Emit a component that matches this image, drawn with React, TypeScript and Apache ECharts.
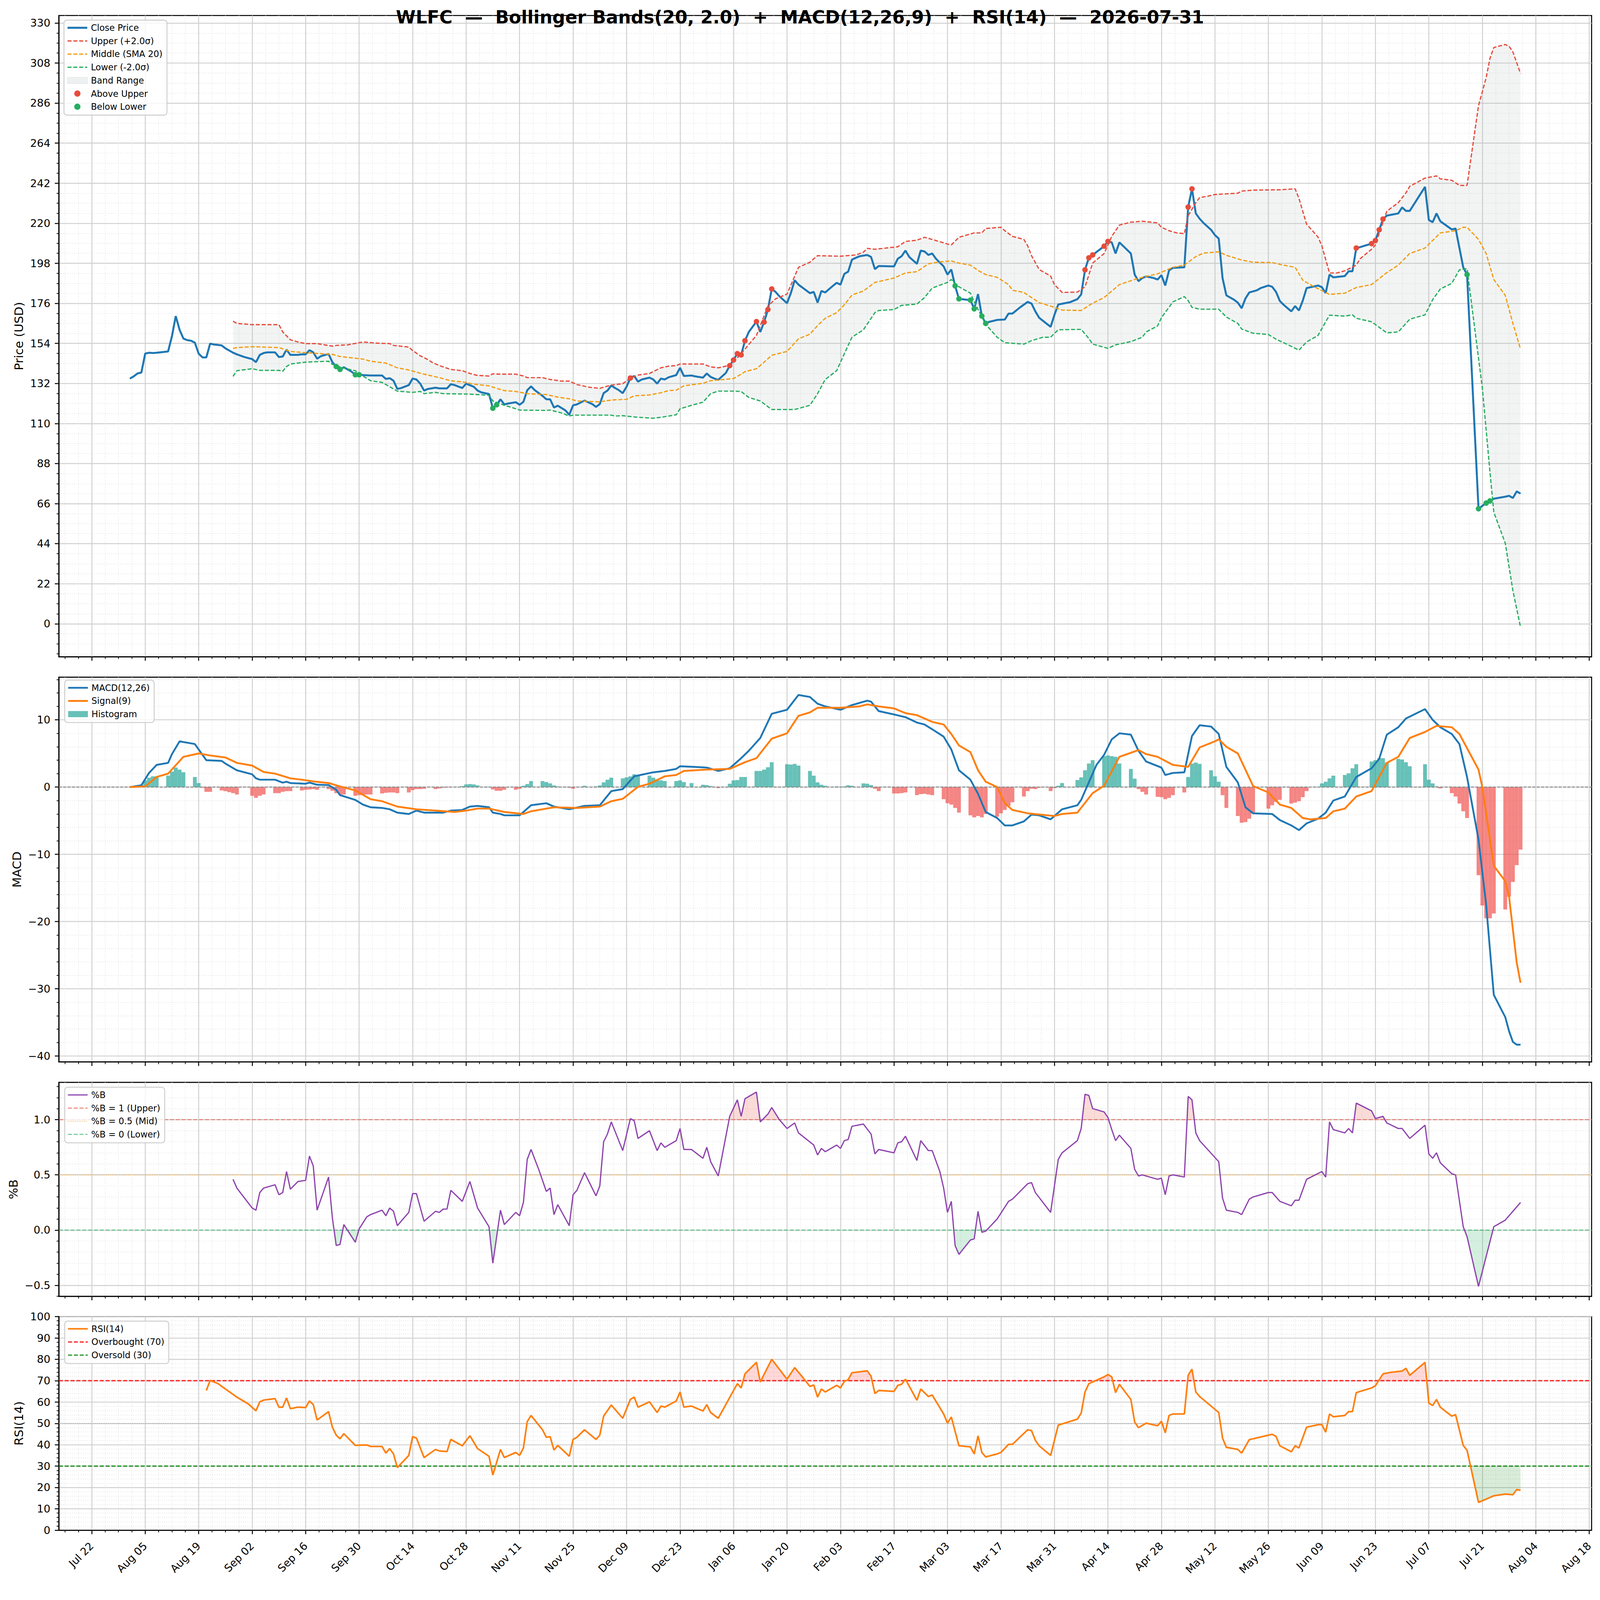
import React, { useEffect, useRef } from "react";
import * as echarts from "echarts";

const FONT = "DejaVu Sans";
// x values are day offsets from 2025-07-22
const BASE_DATE = Date.UTC(2025, 6, 22);
const MONTHS = ["Jan", "Feb", "Mar", "Apr", "May", "Jun", "Jul", "Aug", "Sep", "Oct", "Nov", "Dec"];
const X_MIN = -8.6;
const X_MAX = 392.6;

const TITLE = "WLFC  \u2014  Bollinger Bands(20, 2.0)  +  MACD(12,26,9)  +  RSI(14)  \u2014  2026-07-31";

const CLOSE: number[][] = [
  [10,134.7],[11,135.9],[12,137.5],[13,138.0],[14,148.4],[15,148.9],[16,148.7],[17,148.9],[20,149.6],[21,157.9],[22,169.0],[23,161.5],[24,156.7],[25,155.8],[26,155.5],[27,154.4],[28,148.4],[29,146.3],[30,146.3],[31,153.9],[32,153.4],[33,153.2],[34,152.9],[35,151.3],[36,150.1],[37,148.9],[38,148.0],[40,146.5],[42,145.4],[43,143.7],[44,147.7],[45,148.7],[46,149.1],[48,149.1],[49,146.5],[50,146.8],[51,150.6],[52,147.7],[54,147.7],[55,148.0],[56,148.0],[57,150.3],[58,149.1],[59,145.6],[60,147.0],[62,148.2],[63,143.7],[64,141.3],[65,139.7],[66,140.9],[68,138.5],[69,136.8],[70,136.8],[71,136.6],[73,136.4],[74,136.4],[76,136.4],[77,134.5],[78,134.9],[79,133.5],[80,129.0],[81,129.5],[83,131.1],[84,134.7],[85,134.2],[86,131.9],[87,128.1],[88,129.0],[90,129.7],[91,129.3],[93,129.3],[94,131.6],[95,131.1],[97,129.5],[98,131.9],[100,130.2],[101,128.1],[102,127.1],[104,126.2],[105,118.4],[106,120.3],[107,123.3],[108,120.5],[109,121.0],[111,121.7],[112,120.3],[113,121.9],[114,128.3],[115,130.4],[116,128.3],[118,125.2],[119,123.3],[120,123.3],[121,118.8],[122,119.8],[124,117.2],[125,114.8],[126,120.0],[127,120.5],[129,122.6],[131,120.7],[132,119.1],[133,120.7],[134,126.7],[135,128.1],[136,130.9],[137,129.5],[138,128.3],[139,126.7],[140,130.2],[141,135.0],[142,136.1],[143,133.0],[144,134.2],[146,135.2],[147,134.2],[148,131.9],[149,134.7],[150,134.2],[151,135.4],[153,136.6],[154,140.6],[155,136.1],[157,136.4],[158,135.9],[160,135.2],[161,137.5],[162,135.6],[163,134.7],[164,134.0],[166,137.8],[167,141.8],[168,144.9],[169,148.4],[170,147.7],[171,155.5],[172,160.3],[174,166.0],[175,160.3],[176,165.7],[177,172.6],[178,183.9],[179,182.3],[180,179.9],[182,176.1],[183,181.6],[184,188.7],[185,186.3],[188,181.6],[189,182.3],[190,176.4],[191,182.8],[192,182.0],[194,185.6],[195,187.3],[196,186.3],[197,192.2],[198,193.4],[199,200.0],[200,201.0],[201,201.9],[203,202.6],[204,201.5],[205,194.8],[206,196.5],[210,196.3],[211,200.5],[212,201.9],[213,205.0],[214,201.5],[216,197.7],[217,205.0],[218,204.5],[219,202.6],[220,203.4],[221,200.5],[223,196.3],[224,191.8],[225,194.6],[226,185.6],[227,178.5],[229,178.0],[230,177.8],[231,173.0],[232,181.1],[233,169.0],[234,165.0],[235,165.9],[237,166.9],[239,167.1],[240,170.4],[241,170.4],[243,173.8],[245,176.8],[246,175.9],[247,171.6],[248,168.1],[251,163.1],[252,169.7],[253,175.4],[256,176.6],[258,178.3],[259,180.9],[260,194.4],[261,201.0],[262,202.6],[265,207.4],[266,210.0],[267,209.5],[268,203.4],[269,209.5],[272,203.4],[273,191.8],[274,188.2],[275,189.9],[276,190.8],[278,189.9],[279,189.1],[280,191.5],[281,185.8],[282,194.1],[283,195.5],[286,195.8],[287,228.9],[288,238.9],[289,225.4],[290,222.5],[291,220.2],[293,216.4],[294,213.5],[295,211.6],[296,189.9],[297,180.4],[299,178.0],[300,176.4],[301,173.3],[302,178.7],[303,182.0],[305,183.2],[306,184.4],[308,185.8],[309,185.1],[310,182.3],[311,177.3],[312,175.2],[314,171.6],[315,174.5],[316,172.1],[317,177.5],[318,184.4],[321,185.8],[322,184.9],[323,181.6],[324,191.8],[325,190.3],[328,191.0],[329,193.6],[330,193.6],[331,206.4],[332,206.9],[335,208.8],[336,210.5],[337,216.4],[338,222.3],[339,224.2],[342,225.4],[343,228.7],[344,226.8],[345,226.8],[349,240.0],[350,221.8],[351,220.6],[352,225.4],[353,221.1],[356,216.6],[357,217.1],[359,195.8],[360,191.8],[363,63.2],[365,66.3],[366,67.5],[367,68.7],[370,69.8],[371,70.3],[372,69.1],[373,72.7],[374,71.5]
];

const UPPER: number[][] = [
  [37,166.2],[38,165.0],[42,164.3],[49,164.3],[50,160.3],[52,156.0],[54,154.8],[56,153.9],[59,153.9],[63,152.5],[64,152.9],[67,153.2],[70,154.4],[71,154.8],[75,154.1],[78,153.9],[79,152.9],[83,152.0],[84,150.1],[86,147.2],[88,145.1],[89,143.7],[91,141.8],[94,139.7],[97,139.0],[99,137.5],[101,136.4],[104,136.1],[105,137.3],[107,137.1],[111,137.1],[113,136.1],[114,135.2],[118,135.2],[120,134.2],[123,133.3],[125,133.3],[127,131.4],[130,130.0],[133,129.3],[134,130.0],[136,131.1],[139,131.9],[141,134.9],[143,136.6],[146,137.5],[149,140.6],[151,141.5],[153,141.8],[154,142.7],[160,142.7],[162,141.1],[164,140.6],[166,141.5],[168,143.7],[170,148.4],[174,158.4],[177,174.5],[179,178.5],[182,181.1],[185,195.8],[188,198.6],[189,200.5],[190,202.2],[196,201.9],[200,202.6],[202,204.1],[203,206.2],[205,205.7],[211,207.1],[213,210.0],[216,210.7],[218,212.3],[220,211.1],[224,208.6],[225,208.1],[227,212.3],[229,213.5],[231,214.7],[233,214.7],[234,217.1],[238,217.8],[239,215.9],[241,212.8],[244,211.1],[245,207.6],[246,202.2],[248,194.6],[250,192.2],[251,191.0],[252,186.3],[254,182.0],[258,182.2],[260,185.1],[262,198.1],[265,203.4],[267,212.8],[269,219.0],[272,220.6],[275,221.1],[279,220.2],[280,217.8],[282,215.9],[284,214.7],[286,214.3],[287,224.2],[289,231.3],[290,234.1],[292,234.8],[294,235.8],[300,236.5],[301,237.7],[304,238.2],[311,238.4],[315,238.9],[316,233.7],[318,219.5],[321,212.4],[322,207.6],[324,192.7],[326,192.7],[328,193.9],[331,197.0],[332,200.5],[335,205.7],[336,208.1],[338,220.6],[339,226.6],[342,231.3],[344,236.7],[345,240.3],[349,244.8],[352,246.0],[353,244.4],[356,243.6],[358,240.8],[360,240.8],[363,284.6],[365,299.9],[366,310.6],[367,316.5],[370,318.2],[371,317.2],[372,314.1],[374,302.3]
];

const MIDDLE: number[][] = [
  [37,151.3],[38,151.7],[42,152.2],[49,151.7],[52,149.6],[56,148.9],[63,148.0],[65,146.8],[71,145.4],[73,144.2],[77,143.2],[80,140.6],[83,139.4],[87,137.1],[91,135.2],[94,133.5],[98,132.6],[100,131.6],[104,130.7],[106,129.3],[108,128.1],[111,127.6],[114,126.4],[119,125.9],[122,124.5],[125,123.6],[127,122.4],[133,121.9],[136,122.9],[140,123.3],[142,125.2],[146,125.7],[149,126.9],[151,128.1],[153,128.3],[155,130.7],[160,132.1],[162,133.5],[168,134.7],[170,137.1],[171,138.5],[174,140.1],[176,143.7],[178,147.5],[182,149.6],[185,156.5],[188,159.1],[190,163.8],[192,167.8],[195,170.9],[197,175.2],[199,180.6],[202,182.8],[205,187.5],[210,189.9],[213,192.7],[216,193.4],[219,197.7],[222,198.8],[225,199.3],[227,198.1],[230,197.0],[232,194.1],[234,191.8],[237,190.3],[240,186.3],[241,183.2],[244,182.0],[246,179.2],[248,176.4],[251,174.5],[254,172.3],[259,172.1],[262,176.1],[265,179.2],[269,186.3],[273,189.1],[276,190.8],[279,192.2],[283,195.8],[286,197.0],[289,201.7],[291,203.6],[295,204.3],[297,202.4],[301,199.8],[304,198.6],[309,198.4],[311,197.4],[315,195.8],[317,188.7],[320,185.1],[324,180.9],[328,181.6],[331,184.7],[335,186.3],[339,192.9],[342,197.0],[345,203.4],[349,206.4],[353,214.7],[357,215.9],[359,217.8],[360,217.8],[363,211.1],[365,203.4],[367,189.1],[370,180.4],[372,165.0],[374,150.8]
];

const LOWER: number[][] = [
  [37,135.9],[38,139.0],[42,140.1],[44,139.2],[49,139.2],[50,138.7],[51,141.3],[52,142.7],[56,143.7],[58,143.9],[62,144.2],[63,142.5],[66,140.4],[69,139.0],[71,136.1],[73,133.5],[76,132.6],[77,131.4],[80,127.8],[84,127.1],[86,127.6],[87,126.4],[90,127.1],[92,126.4],[98,126.2],[101,125.9],[104,125.5],[105,122.4],[108,120.0],[110,118.8],[112,117.4],[119,117.2],[120,117.4],[123,115.8],[125,114.1],[126,114.6],[136,114.6],[137,114.1],[139,114.3],[142,113.6],[147,112.9],[149,113.4],[153,114.8],[154,118.1],[157,120.0],[160,121.7],[162,126.4],[164,127.8],[168,127.8],[170,127.6],[171,125.9],[172,124.3],[175,122.4],[178,117.7],[184,117.7],[188,120.0],[190,126.4],[192,134.2],[195,139.0],[196,143.7],[199,157.4],[202,161.5],[205,170.9],[206,172.1],[210,172.6],[212,174.9],[216,175.6],[218,179.2],[220,184.4],[224,187.5],[225,189.1],[227,185.1],[230,181.6],[231,176.8],[234,164.5],[237,157.4],[239,154.4],[244,153.6],[246,155.5],[249,157.4],[251,157.4],[253,161.5],[259,161.7],[261,156.7],[262,153.6],[266,151.3],[268,153.2],[272,155.0],[275,157.4],[276,160.3],[279,163.6],[280,168.1],[283,176.8],[286,179.7],[287,177.5],[288,173.8],[290,172.8],[295,172.8],[297,168.5],[300,165.0],[301,161.9],[304,159.6],[308,158.9],[310,156.3],[313,153.4],[316,150.3],[318,154.8],[321,158.4],[322,162.2],[324,169.5],[328,169.0],[330,169.7],[331,167.8],[335,165.9],[339,159.8],[342,160.3],[345,167.3],[349,169.7],[351,178.0],[353,183.9],[356,187.0],[358,194.4],[360,195.1],[364,129.5],[366,83.3],[367,61.3],[370,44.3],[372,18.2],[374,-1.9]
];

const ABOVE_UPPER: number[][] = [
  [141,135.0],[167,141.8],[168,144.9],[169,148.4],[170,147.7],[171,155.5],[174,166.0],[176,165.7],[177,172.6],[178,183.9],[260,194.4],[261,201.0],[262,202.6],[265,207.4],[266,210.0],[287,228.9],[288,238.9],[331,206.4],[335,208.8],[336,210.5],[337,216.4],[338,222.3]
];

const BELOW_LOWER: number[][] = [
  [64,141.3],[65,139.7],[69,136.8],[70,136.8],[105,118.4],[106,120.3],[226,185.6],[227,178.5],[230,177.8],[231,173.0],[233,169.0],[234,165.0],[360,191.8],[363,63.2],[365,66.3],[366,67.5]
];

const MACD: number[][] = [
  [10,0],[13,0.27],[15,2.1],[17,3.3],[20,3.6],[21,4.9],[23,6.8],[25,6.6],[27,6.4],[28,5.6],[30,4.0],[34,3.9],[35,3.5],[38,2.5],[42,1.9],[43,1.3],[44,1.1],[48,1.1],[50,0.66],[51,0.8],[52,0.6],[56,0.5],[57,0.66],[59,0.35],[62,0.3],[64,-0.4],[65,-1.2],[69,-1.9],[71,-2.6],[73,-3.0],[76,-3.1],[78,-3.3],[80,-3.8],[83,-4.0],[85,-3.5],[87,-3.8],[92,-3.8],[94,-3.5],[97,-3.4],[99,-2.9],[101,-2.8],[104,-3.0],[105,-3.8],[107,-4.0],[108,-4.2],[112,-4.2],[113,-3.7],[115,-2.7],[119,-2.4],[121,-2.9],[125,-3.3],[129,-2.8],[133,-2.7],[136,-0.6],[139,-0.3],[142,1.6],[147,2.2],[150,2.4],[153,2.7],[154,3.1],[158,3.0],[161,2.9],[164,2.4],[167,2.8],[170,4.3],[172,5.4],[175,7.3],[178,10.9],[182,11.5],[185,13.7],[188,13.4],[190,12.4],[192,12.0],[196,11.5],[199,12.2],[203,12.85],[204,12.7],[206,11.3],[210,10.8],[213,10.4],[216,9.6],[218,9.3],[220,8.6],[223,7.5],[225,5.6],[227,2.5],[230,1.1],[232,-1.0],[234,-3.7],[237,-4.6],[239,-5.7],[241,-5.7],[244,-5.1],[246,-4.1],[248,-4.2],[251,-4.8],[254,-3.3],[258,-2.7],[259,-1.9],[263,3.3],[265,4.8],[267,7.1],[269,8.0],[272,7.8],[274,5.4],[276,3.8],[280,2.9],[281,1.8],[283,2.1],[286,2.2],[288,7.6],[290,9.2],[293,9.0],[295,7.9],[297,3.0],[300,0.7],[302,-3.0],[304,-3.9],[309,-4.0],[311,-4.9],[314,-5.7],[316,-6.4],[318,-5.4],[321,-4.7],[323,-3.8],[325,-2.0],[328,-1.4],[331,1.5],[335,2.8],[337,4.2],[339,7.8],[342,8.9],[344,10.2],[349,11.6],[351,10.0],[353,8.9],[356,7.9],[358,6.4],[360,1.5],[363,-7.8],[365,-17.5],[367,-30.9],[370,-34.2],[371,-36.3],[372,-37.9],[373,-38.3],[374,-38.3]
];

const SIGNAL: number[][] = [
  [10,0],[14,0.1],[17,1.5],[20,2.0],[24,4.5],[28,5.0],[31,4.7],[35,4.4],[38,3.6],[42,3.2],[45,2.25],[48,2.0],[52,1.3],[55,1.1],[58,0.85],[62,0.6],[65,0.1],[69,-0.5],[73,-1.8],[76,-2.1],[80,-2.9],[85,-3.3],[90,-3.5],[95,-3.7],[98,-3.5],[101,-3.2],[104,-3.2],[108,-3.7],[113,-4.0],[115,-3.6],[118,-3.3],[121,-3.0],[127,-3.1],[133,-2.9],[136,-2.1],[139,-1.75],[143,0.04],[146,0.5],[150,1.6],[153,1.8],[155,2.4],[161,2.6],[167,2.7],[171,3.7],[174,4.3],[178,7.2],[182,8.0],[185,10.6],[188,11.1],[190,11.8],[192,11.8],[196,11.8],[201,12.0],[203,12.3],[206,12.0],[210,11.7],[213,11.0],[216,10.7],[220,9.7],[223,9.3],[225,7.9],[227,6.2],[230,5.2],[232,2.5],[234,0.8],[237,0],[239,-2.4],[241,-3.4],[245,-3.9],[252,-4.3],[254,-4.0],[258,-3.8],[262,-0.9],[265,0.2],[269,4.5],[274,5.5],[276,4.9],[279,4.5],[283,3.3],[287,3.0],[290,5.9],[294,6.8],[295,7.1],[297,6.0],[300,5.0],[304,0.15],[308,-0.8],[311,-2.6],[314,-3.1],[317,-4.6],[319,-4.8],[323,-4.6],[325,-3.6],[328,-3.2],[331,-1.4],[335,-0.6],[339,3.6],[342,4.5],[345,7.3],[349,8.2],[352,9.1],[356,8.9],[358,7.9],[363,2.6],[364,0],[367,-11.7],[370,-14.0],[371,-16.3],[373,-26.1],[374,-29.1]
];

const HIST: number[][] = [
  [10,0],[13,0.3],[14,1.0],[15,1.4],[16,1.6],[17,1.6],
  [20,1.7],[21,2.3],[22,2.9],[23,2.6],[24,2.2],
  [27,1.5],[28,0.6],[29,-0.1],[30,-0.7],[31,-0.7],
  [34,-0.5],[35,-0.6],[36,-0.75],[37,-0.9],[38,-1.1],
  [42,-1.3],[43,-1.6],[44,-1.3],[45,-1.1],
  [48,-0.9],[49,-0.9],[50,-0.7],[51,-0.6],[52,-0.6],
  [55,-0.5],[56,-0.4],[57,-0.35],[58,-0.3],[59,-0.4],
  [62,-0.3],[63,-0.55],[64,-0.9],[65,-1.1],[66,-1.1],
  [69,-1.3],[70,-1.2],[71,-1.15],[72,-1.1],[73,-1.1],
  [76,-0.95],[77,-0.85],[78,-0.8],[79,-0.8],[80,-0.9],
  [83,-0.8],[84,-0.45],[85,-0.3],[86,-0.3],[87,-0.25],
  [90,-0.3],[91,-0.2],[92,-0.1],[93,-0.05],[94,0.05],
  [97,0.15],[98,0.4],[99,0.45],[100,0.4],[101,0.25],
  [104,0.05],[105,-0.35],[106,-0.55],[107,-0.55],[108,-0.4],
  [111,-0.4],[112,-0.25],[113,0.2],[114,0.45],[115,0.9],
  [118,0.9],[119,0.75],[120,0.55],[121,0.25],[122,0.1],
  [125,-0.1],[126,-0.25],[127,0.0],[129,0.2],
  [132,0.1],[133,0.25],[134,0.7],[135,1.1],[136,1.4],
  [139,1.3],[140,1.45],[141,1.6],[142,1.9],[143,1.7],
  [146,1.7],[147,1.4],[148,1.15],[149,1.0],[150,0.9],
  [153,0.9],[154,1.0],[155,0.75],[157,0.6],
  [160,0.35],[161,0.3],[162,0.15],[164,-0.15],
  [167,0.5],[168,1.0],[169,1.05],[170,1.5],[171,1.5],
  [174,2.4],[175,2.4],[176,2.6],[177,2.95],[178,3.7],
  [182,3.4],[183,3.35],[184,3.45],[185,3.2],
  [188,2.4],[189,1.7],[190,0.7],[191,0.35],[192,0.2],
  [195,0.1],[196,0.0],[197,0.1],[198,0.27],[199,0.2],
  [202,0.55],[203,0.5],[204,0.3],[205,-0.25],[206,-0.6],
  [210,-0.95],[211,-0.95],[212,-0.9],[213,-0.8],
  [216,-1.2],[217,-1.05],[218,-1.0],[219,-1.1],[220,-1.2],
  [223,-1.8],[224,-2.4],[225,-2.6],[226,-3.1],[227,-3.8],
  [230,-4.2],[231,-4.5],[232,-4.3],[233,-4.5],[234,-4.0],
  [237,-4.4],[238,-3.9],[239,-3.4],[240,-2.8],[241,-2.25],
  [244,-1.4],[245,-0.6],[246,-0.25],[247,-0.3],[248,-0.1],
  [251,-0.6],[252,-0.15],[253,0.2],[254,0.6],
  [258,1.05],[259,1.45],[260,2.5],[261,3.5],[262,4.0],
  [265,4.6],[266,4.7],[267,4.6],[268,4.5],[269,3.5],
  [272,2.7],[273,1.25],[274,-0.3],[275,-0.7],[276,-1.1],
  [279,-1.45],[280,-1.5],[281,-1.8],[282,-1.6],[283,-1.2],
  [286,-0.8],[287,1.5],[288,3.5],[289,3.65],[290,3.45],
  [293,2.5],[294,1.6],[295,0.8],[296,-1.2],[297,-3.1],
  [300,-4.3],[301,-5.3],[302,-5.2],[303,-4.7],[304,-3.9],
  [308,-3.2],[309,-2.7],[310,-2.2],[311,-1.9],
  [314,-2.45],[315,-2.3],[316,-2.1],[317,-1.5],[318,-0.6],
  [321,0.05],[322,0.55],[323,0.8],[324,1.3],[325,1.7],
  [328,1.8],[329,2.05],[330,2.8],[331,3.4],
  [335,3.8],[336,4.0],[337,4.3],[338,4.3],[339,3.65],
  [342,4.2],[343,4.1],[344,3.7],[345,3.1],
  [349,3.4],[350,1.1],[351,0.55],[352,0.1],[353,-0.2],
  [356,-0.9],[357,-1.4],[358,-2.45],[359,-3.6],[360,-4.6],
  [363,-13.1],[364,-17.6],[365,-19.5],[366,-19.5],[367,-18.8],
  [370,-18.2],[371,-16.3],[372,-14.1],[373,-11.6],[374,-9.3]
];

const PCT_B: number[][] = [
  [37,0.46],[38,0.38],[42,0.2],[43,0.18],[44,0.34],[45,0.38],[48,0.41],[49,0.32],[50,0.34],[51,0.53],[52,0.37],[54,0.44],[56,0.45],[57,0.67],[58,0.58],[59,0.18],[62,0.48],[63,0.11],[64,-0.14],[65,-0.13],[66,0.05],[69,-0.11],[70,0.01],[72,0.12],[73,0.14],[76,0.18],[77,0.13],[78,0.2],[79,0.17],[80,0.04],[83,0.16],[84,0.33],[85,0.33],[87,0.08],[90,0.17],[91,0.16],[92,0.19],[93,0.19],[94,0.36],[97,0.26],[99,0.44],[101,0.2],[104,0.03],[105,-0.3],[107,0.18],[108,0.05],[111,0.16],[112,0.13],[113,0.25],[114,0.64],[115,0.73],[117,0.55],[119,0.35],[120,0.38],[121,0.14],[122,0.23],[125,0.04],[126,0.32],[127,0.36],[129,0.52],[132,0.31],[133,0.40],[134,0.80],[135,0.87],[136,0.98],[139,0.72],[141,1.01],[142,0.99],[143,0.83],[146,0.90],[148,0.72],[149,0.79],[150,0.75],[153,0.81],[154,0.92],[155,0.73],[157,0.73],[160,0.65],[161,0.75],[162,0.62],[164,0.49],[167,1.03],[169,1.18],[170,1.03],[171,1.19],[174,1.25],[175,0.98],[177,1.05],[178,1.11],[180,1.0],[182,0.92],[184,0.97],[185,0.88],[189,0.77],[190,0.68],[191,0.74],[192,0.71],[195,0.77],[196,0.74],[197,0.81],[198,0.82],[199,0.94],[202,0.96],[204,0.87],[205,0.69],[206,0.73],[210,0.70],[211,0.79],[212,0.80],[213,0.85],[216,0.63],[217,0.81],[219,0.72],[220,0.72],[222,0.53],[223,0.38],[224,0.16],[225,0.26],[226,-0.14],[227,-0.22],[230,-0.09],[231,-0.08],[232,0.17],[233,-0.02],[234,-0.01],[237,0.10],[240,0.26],[241,0.28],[245,0.42],[246,0.43],[247,0.34],[251,0.16],[253,0.64],[254,0.70],[258,0.81],[259,0.92],[260,1.23],[261,1.22],[262,1.10],[265,1.07],[266,1.02],[267,0.91],[268,0.81],[269,0.86],[272,0.74],[273,0.55],[274,0.49],[275,0.50],[279,0.46],[280,0.47],[281,0.32],[282,0.49],[283,0.50],[286,0.48],[287,1.21],[288,1.18],[289,0.88],[290,0.81],[295,0.62],[296,0.29],[297,0.18],[300,0.16],[301,0.14],[303,0.28],[304,0.30],[308,0.34],[309,0.34],[311,0.26],[314,0.22],[315,0.27],[316,0.27],[318,0.46],[322,0.53],[323,0.48],[324,0.98],[325,0.91],[328,0.88],[329,0.92],[330,0.88],[331,1.15],[335,1.08],[336,1.01],[338,1.03],[339,0.97],[342,0.92],[343,0.92],[345,0.83],[349,0.95],[350,0.69],[351,0.65],[352,0.70],[353,0.61],[356,0.51],[357,0.50],[359,0.03],[360,-0.06],[363,-0.51],[367,0.03],[370,0.09],[373,0.21],[374,0.25]
];

const RSI: number[][] = [
  [30,65.4],[31,70.1],[33,68.7],[35,66.1],[38,62.3],[41,59.1],[43,55.9],[44,60.1],[45,60.9],[48,61.6],[49,57.6],[50,57.6],[51,61.9],[52,56.9],[54,57.6],[56,57.4],[57,60.5],[58,58.8],[59,51.6],[62,55.5],[63,48.2],[64,44.5],[65,42.8],[66,45.2],[69,39.7],[70,39.8],[72,39.9],[73,39.2],[76,39.2],[77,36.1],[78,38.2],[79,35.7],[80,29.3],[83,35.0],[84,43.8],[85,43.1],[87,34.0],[90,37.8],[91,37.1],[93,36.8],[94,42.5],[97,39.5],[99,44.2],[101,38.2],[104,34.6],[105,25.8],[107,37.8],[108,34.0],[111,36.4],[112,35.0],[113,38.5],[114,50.8],[115,53.7],[118,47.0],[119,43.5],[120,43.8],[121,37.5],[122,39.7],[125,34.6],[126,42.5],[127,43.5],[129,47.0],[132,42.5],[133,44.5],[134,53.4],[136,58.6],[139,52.4],[141,61.2],[142,62.3],[143,57.6],[146,60.1],[148,55.1],[149,58.1],[150,57.6],[153,60.5],[154,64.7],[155,57.6],[157,58.1],[160,55.8],[161,58.8],[162,55.1],[164,52.4],[169,68.6],[170,66.6],[171,73.2],[174,78.6],[175,69.4],[178,80.0],[182,70.7],[184,76.1],[186,71.8],[188,67.3],[189,68.0],[190,62.3],[191,66.1],[192,64.7],[195,67.8],[196,66.6],[197,69.7],[198,70.4],[199,73.7],[203,74.6],[204,72.1],[205,64.0],[206,65.4],[210,65.0],[211,67.8],[212,68.3],[213,70.7],[216,60.8],[217,66.1],[219,62.6],[220,63.3],[223,54.4],[224,50.1],[225,53.0],[227,39.5],[230,39.0],[231,35.7],[232,44.2],[233,36.4],[234,34.3],[237,35.7],[238,36.4],[240,40.2],[241,40.2],[245,47.0],[246,46.6],[247,42.1],[248,39.5],[251,35.0],[253,49.2],[255,50.3],[258,52.0],[259,54.8],[260,64.7],[261,68.6],[265,71.8],[266,72.9],[267,71.8],[268,64.4],[269,68.3],[272,61.2],[273,50.6],[274,48.0],[276,50.1],[279,48.9],[280,51.0],[281,45.6],[282,53.7],[283,54.4],[286,54.4],[287,72.5],[288,75.4],[289,64.7],[290,62.6],[295,55.1],[296,43.1],[297,38.8],[300,37.8],[301,36.1],[303,42.4],[304,42.8],[309,44.9],[310,43.9],[311,39.5],[314,36.7],[315,39.5],[316,38.5],[318,48.2],[321,49.4],[322,49.4],[323,45.9],[324,54.4],[325,53.1],[328,53.7],[329,55.5],[330,55.5],[331,64.4],[335,66.6],[336,67.6],[338,73.2],[340,73.9],[343,74.5],[344,75.8],[345,72.5],[349,78.6],[350,59.5],[351,58.4],[352,61.2],[353,57.6],[356,53.4],[357,54.1],[359,39.7],[360,37.4],[363,13.0],[367,16.1],[370,16.9],[372,16.6],[373,19.0],[374,18.7]
];

// Axis tick values
const seq = (a: number, b: number, s: number) => {
  const n = Math.round((b - a) / s);
  return Array.from({ length: n + 1 }, (_, i) => +(a + i * s).toFixed(6));
};
const notMultiple = (v: number, m: number) => Math.abs(v / m - Math.round(v / m)) > 1e-6;

const X_MAJOR = seq(0, 392, 14);
const X_MINOR = seq(-7, 392, 3.5).filter((v) => notMultiple(v, 14));
const PRICE_MIN = -18.1, PRICE_MAX = 334.1;
const PRICE_MAJOR = seq(0, 330, 22);
const PRICE_MINOR = seq(-16.5, 330, 5.5).filter((v) => notMultiple(v, 22));
const MACD_MIN = -40.87, MACD_MAX = 16.34;
const MACD_MAJOR = seq(-40, 10, 10);
const MACD_MINOR = seq(-40, 16, 2).filter((v) => notMultiple(v, 10));
const PB_MIN = -0.6, PB_MAX = 1.338;
const PB_MAJOR = seq(-0.5, 1.0, 0.5);
const PB_MINOR = seq(-0.6, 1.3, 0.1).filter((v) => notMultiple(v, 0.5));
const RSI_MAJOR = seq(0, 100, 10);
const RSI_MINOR = seq(0, 100, 2).filter((v) => notMultiple(v, 10));

const MINUS = "\u2212";
const fmtDate = (d: number) => {
  const dt = new Date(BASE_DATE + Math.round(d) * 86400000);
  return MONTHS[dt.getUTCMonth()] + " " + String(dt.getUTCDate()).padStart(2, "0");
};
const fmtInt = (v: number) => (v < 0 ? MINUS + Math.abs(Math.round(v)) : String(Math.round(v)));
const fmtOne = (v: number) => (v < 0 ? MINUS : "") + Math.abs(v).toFixed(1);

// Layout (design px; the whole drawing is scaled to the viewport)
const W = 4378, H = 4322;
const LEFT = 161, RIGHT = 23;
const GRIDS = [
  { top: 42.5, height: 1754.5 },
  { top: 1853, height: 1052.7 },
  { top: 2961.6, height: 585.4 },
  { top: 3602.5, height: 584.5 },
];
const TICK_FONT = 29;
const DAY_PX = (W - LEFT - RIGHT) / (X_MAX - X_MIN);

function xAxes(gridIndex: number, showLabels: boolean) {
  return [
    {
      type: "value", gridIndex, min: X_MIN, max: X_MAX, position: "bottom",
      axisLine: { show: true, onZero: false, lineStyle: { color: "#000", width: 2.8 } },
      axisTick: { show: true, customValues: X_MAJOR, length: 11, lineStyle: { color: "#000", width: 2.6 } },
      axisLabel: {
        show: showLabels, customValues: X_MAJOR, formatter: fmtDate, rotate: 45,
        fontSize: TICK_FONT, fontFamily: FONT, color: "#000", margin: 38,
      },
      splitLine: { show: true, lineStyle: { color: "#d0d0d0", width: 2.6 } },
    },
    {
      type: "value", gridIndex, min: X_MIN, max: X_MAX, position: "bottom",
      axisLine: { show: false, onZero: false },
      axisTick: { show: true, customValues: X_MINOR, length: 6, lineStyle: { color: "#000", width: 2 } },
      axisLabel: { show: false },
      splitLine: { show: true, lineStyle: { color: "#e0e0e0", width: 1.8, type: [2, 4] } },
    },
  ];
}

function yAxes(gridIndex: number, min: number, max: number, major: number[], minor: number[], fmt: (v: number) => string, name: string, nameGap: number) {
  return [
    {
      type: "value", gridIndex, min, max, position: "left",
      name, nameLocation: "middle", nameGap,
      nameTextStyle: { fontSize: 33, fontFamily: FONT, color: "#000" },
      axisLine: { show: true, onZero: false, lineStyle: { color: "#000", width: 2.8 } },
      axisTick: { show: true, customValues: major, length: 11, lineStyle: { color: "#000", width: 2.6 } },
      axisLabel: { show: true, customValues: major, formatter: fmt, fontSize: TICK_FONT, fontFamily: FONT, color: "#000", margin: 23 },
      splitLine: { show: true, lineStyle: { color: "#d0d0d0", width: 2.6 } },
    },
    {
      type: "value", gridIndex, min, max, position: "left",
      axisLine: { show: false, onZero: false },
      axisTick: { show: true, customValues: minor, length: 6, lineStyle: { color: "#000", width: 2 } },
      axisLabel: { show: false },
      splitLine: { show: true, lineStyle: { color: "#e0e0e0", width: 1.8, type: [2, 4] } },
    },
  ];
}

function lineSeries(name: string, data: number[][], g: number, color: string, width: number, type: any, z: number) {
  return {
    type: "line", name, data, xAxisIndex: g * 2, yAxisIndex: g * 2,
    symbol: "none", silent: true, z,
    lineStyle: { color, width, type },
    itemStyle: { color },
  };
}

function hLine(name: string, level: number, g: number, color: string, width: number, type: any, z: number) {
  return lineSeries(name, [[X_MIN, level], [X_MAX, level]], g, color, width, type, z);
}

function thresholdFill(name: string, data: number[][], level: number, above: boolean, color: string, g: number) {
  return {
    type: "custom", name, xAxisIndex: g * 2, yAxisIndex: g * 2, silent: true, z: 1,
    data: [[data[0][0], level]],
    renderItem: (_params: any, api: any) => {
      const children: any[] = [];
      const inside = (v: number) => (above ? v > level : v < level);
      for (let i = 0; i < data.length - 1; i++) {
        const [x0, y0] = data[i];
        const [x1, y1] = data[i + 1];
        const a0 = inside(y0), a1 = inside(y1);
        if (!a0 && !a1) continue;
        let pts: number[][];
        if (a0 && a1) pts = [[x0, level], [x0, y0], [x1, y1], [x1, level]];
        else {
          const t = (level - y0) / (y1 - y0);
          const xc = x0 + t * (x1 - x0);
          pts = a0 ? [[x0, level], [x0, y0], [xc, level]] : [[xc, level], [x1, y1], [x1, level]];
        }
        children.push({ type: "polygon", shape: { points: pts.map((p) => api.coord(p)) }, style: { fill: color } });
      }
      return { type: "group", children };
    },
  };
}

function legendBox(left: number, top: number, data: any[]) {
  return {
    orient: "vertical", left, top, data, selectedMode: false,
    itemWidth: 54, itemHeight: 17, itemGap: 12,
    padding: [9, 12, 11, 7],
    backgroundColor: "rgba(255,255,255,0.8)", borderColor: "#cccccc", borderWidth: 2.5, borderRadius: 8,
    textStyle: { fontSize: 24, fontFamily: FONT, color: "#000", padding: [0, 0, 0, 5] },
  };
}
const lineLegend = (name: string, color: string, width: number, type: any) => ({
  name, itemStyle: { opacity: 0 }, lineStyle: { color, width, type },
});
const iconLegend = (name: string, icon: string, color: string, borderColor?: string) => ({
  name, icon, itemStyle: { color, borderColor: borderColor || color, borderWidth: borderColor ? 1.5 : 0, opacity: 1 },
});

const C_CLOSE = "#1f77b4", C_UP = "#e74c3c", C_MID = "#f39c12", C_LOW = "#27ae60";
const BAND_FILL = "rgba(176,188,188,0.16)";
const POS_BAR = "rgba(38,166,154,0.7)", NEG_BAR = "rgba(239,83,80,0.7)";
const DASH: number[] = [11, 5];

function buildOption() {
  return {
    animation: false,
    backgroundColor: "#ffffff",
    textStyle: { fontFamily: FONT },
    title: {
      text: TITLE, left: "center", top: 18,
      textStyle: { fontSize: 49, fontWeight: "bold", fontFamily: FONT, color: "#000" },
    },
    grid: GRIDS.map((g) => ({ left: LEFT, right: RIGHT, top: g.top, height: g.height, show: true, borderColor: "#000", borderWidth: 2.8, backgroundColor: "transparent" })),
    xAxis: [...xAxes(0, false), ...xAxes(1, false), ...xAxes(2, false), ...xAxes(3, true)],
    yAxis: [
      ...yAxes(0, PRICE_MIN, PRICE_MAX, PRICE_MAJOR, PRICE_MINOR, fmtInt, "Price (USD)", 93),
      ...yAxes(1, MACD_MIN, MACD_MAX, MACD_MAJOR, MACD_MINOR, fmtInt, "MACD", 99),
      ...yAxes(2, PB_MIN, PB_MAX, PB_MAJOR, PB_MINOR, fmtOne, "%B", 108),
      ...yAxes(3, 0, 100, RSI_MAJOR, RSI_MINOR, fmtInt, "RSI(14)", 93),
    ],
    legend: [
      legendBox(175, 55, [
        lineLegend("Close Price", C_CLOSE, 5.4, "solid"),
        lineLegend("Upper (+2.0\u03c3)", C_UP, 3.4, DASH),
        lineLegend("Middle (SMA 20)", C_MID, 3.4, DASH),
        lineLegend("Lower (-2.0\u03c3)", C_LOW, 3.4, DASH),
        iconLegend("Band Range", "rect", "#eef1f1", "#e2e6e6"),
        iconLegend("Above Upper", "circle", C_UP),
        iconLegend("Below Lower", "circle", C_LOW),
      ]),
      legendBox(177, 1861, [
        lineLegend("MACD(12,26)", C_CLOSE, 5, "solid"),
        lineLegend("Signal(9)", "#ff7f0e", 5, "solid"),
        iconLegend("Histogram", "rect", POS_BAR),
      ]),
      legendBox(177, 2975, [
        lineLegend("%B", "#8e44ad", 3.4, "solid"),
        lineLegend("%B = 1 (Upper)", "rgba(231,76,60,0.7)", 2.6, DASH),
        lineLegend("%B = 0.5 (Mid)", "rgba(243,156,18,0.7)", 2.6, [2, 3]),
        lineLegend("%B = 0 (Lower)", "rgba(39,174,96,0.7)", 2.6, DASH),
      ]),
      legendBox(177, 3615, [
        lineLegend("RSI(14)", "#ff7f0e", 4.4, "solid"),
        lineLegend("Overbought (70)", "rgba(255,0,0,0.8)", 3.6, DASH),
        lineLegend("Oversold (30)", "rgba(0,128,0,0.8)", 3.6, DASH),
      ]),
    ],
    series: [
      // Panel 1: price + Bollinger bands
      {
        type: "custom", name: "Band Range", xAxisIndex: 0, yAxisIndex: 0, silent: true, z: 1,
        data: [[100, 100]],
        itemStyle: { color: "#eef1f1" },
        renderItem: (_p: any, api: any) => ({
          type: "polygon",
          shape: { points: UPPER.map((p) => api.coord(p)).concat(LOWER.slice().reverse().map((p) => api.coord(p))) },
          style: { fill: BAND_FILL },
        }),
      },
      lineSeries("Close Price", CLOSE, 0, C_CLOSE, 5.4, "solid", 3),
      lineSeries("Upper (+2.0\u03c3)", UPPER, 0, C_UP, 3.4, DASH, 4),
      lineSeries("Middle (SMA 20)", MIDDLE, 0, C_MID, 3.4, DASH, 4),
      lineSeries("Lower (-2.0\u03c3)", LOWER, 0, C_LOW, 3.4, DASH, 4),
      {
        type: "scatter", name: "Above Upper", data: ABOVE_UPPER, xAxisIndex: 0, yAxisIndex: 0,
        symbol: "circle", symbolSize: 15, itemStyle: { color: C_UP, opacity: 1 }, z: 6, silent: true,
      },
      {
        type: "scatter", name: "Below Lower", data: BELOW_LOWER, xAxisIndex: 0, yAxisIndex: 0,
        symbol: "circle", symbolSize: 15, itemStyle: { color: C_LOW, opacity: 1 }, z: 6, silent: true,
      },
      // Panel 2: MACD
      {
        type: "bar", name: "Histogram", data: HIST, xAxisIndex: 2, yAxisIndex: 2, barWidth: DAY_PX, z: 2, silent: true,
        itemStyle: { color: (p: any) => (p.value[1] >= 0 ? POS_BAR : NEG_BAR) },
      },
      hLine("zero", 0, 1, "#888888", 2.6, [8, 4], 3),
      lineSeries("MACD(12,26)", MACD, 1, C_CLOSE, 5, "solid", 4),
      lineSeries("Signal(9)", SIGNAL, 1, "#ff7f0e", 5, "solid", 4),
      // Panel 3: %B
      thresholdFill("pbUpFill", PCT_B, 1, true, "rgba(231,76,60,0.2)", 2),
      thresholdFill("pbLowFill", PCT_B, 0, false, "rgba(39,174,96,0.2)", 2),
      hLine("%B = 1 (Upper)", 1, 2, "rgba(231,76,60,0.7)", 2.6, DASH, 2),
      hLine("%B = 0.5 (Mid)", 0.5, 2, "rgba(243,156,18,0.7)", 2.6, [2, 3], 2),
      hLine("%B = 0 (Lower)", 0, 2, "rgba(39,174,96,0.7)", 2.6, DASH, 2),
      lineSeries("%B", PCT_B, 2, "#8e44ad", 3.4, "solid", 4),
      // Panel 4: RSI
      thresholdFill("rsiUpFill", RSI, 70, true, "rgba(255,0,0,0.15)", 3),
      thresholdFill("rsiLowFill", RSI, 30, false, "rgba(0,128,0,0.15)", 3),
      hLine("mid50", 50, 3, "#999999", 2, [2, 3], 2),
      hLine("Overbought (70)", 70, 3, "rgba(255,0,0,0.8)", 3.6, DASH, 2),
      hLine("Oversold (30)", 30, 3, "rgba(0,128,0,0.8)", 3.6, DASH, 2),
      lineSeries("RSI(14)", RSI, 3, "#ff7f0e", 4.4, "solid", 4),
    ],
  };
}

export default function App() {
  const ref = useRef<HTMLDivElement>(null);
  useEffect(() => {
    document.documentElement.style.overflow = "hidden";
    document.body.style.margin = "0";
    document.body.style.overflow = "hidden";
    const el = ref.current;
    if (!el) return;
    const s = Math.min(window.innerWidth / W, window.innerHeight / H);
    el.style.transform = `scale(${s})`;
    const chart = echarts.init(el, undefined, { renderer: "svg", width: W, height: H });
    chart.setOption(buildOption() as any);
    return () => chart.dispose();
  }, []);
  return (
    <div style={{ width: "100vw", height: "100vh", overflow: "hidden", position: "relative" }}>
      <div ref={ref} style={{ width: W, height: H, transformOrigin: "0 0", position: "absolute", left: 0, top: 0 }} />
    </div>
  );
}
